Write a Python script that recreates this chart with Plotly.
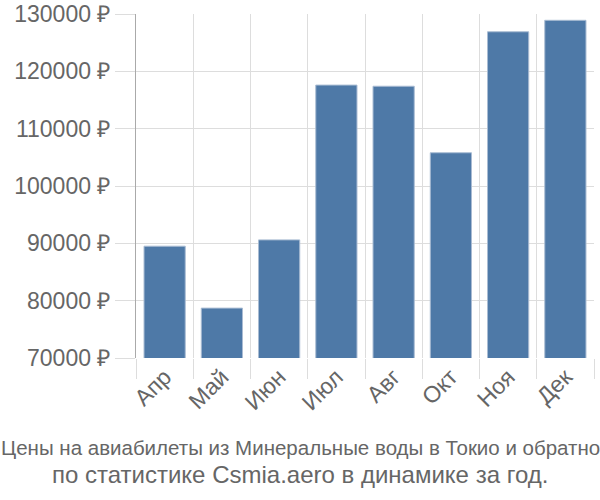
import plotly.graph_objects as go

months = ["Апр", "Май", "Июн", "Июл", "Авг", "Окт", "Ноя", "Дек"]
prices = [89500, 78700, 90600, 117600, 117400, 105800, 126900, 128900]
y_ticks = [70000, 80000, 90000, 100000, 110000, 120000, 130000]
title_line1 = "Цены на авиабилеты из Минеральные воды в Токио и обратно"
title_line2 = "по статистике Csmia.aero в динамике за год."

fig = go.Figure(go.Bar(
    x=months, y=prices,
    marker=dict(color="#4e79a7", line=dict(color="#a9bcd3", width=1)),
    width=0.72,
))

fig.update_layout(
    width=600, height=500,
    margin=dict(l=136, r=6, t=14, b=142),
    plot_bgcolor="white", paper_bgcolor="white",
    font=dict(family="Liberation Sans, Arial, sans-serif", color="#666666"),
    showlegend=False,
    bargap=0.28,
)
fig.update_xaxes(
    tickson="boundaries", showgrid=True, gridcolor="#dddddd", gridwidth=1,
    ticks="outside", ticklen=20, tickcolor="#dddddd",
    tickangle=-45, tickfont=dict(size=23, color="#666666"),
    showline=False, zeroline=False, automargin=False,
)
fig.update_yaxes(
    range=[70000, 130000], tickvals=y_ticks,
    ticktext=[f"{v} ₽" for v in y_ticks],
    showgrid=True, gridcolor="#dddddd", gridwidth=1,
    ticks="outside", ticklen=20, tickcolor="#dddddd",
    tickfont=dict(size=23, color="#666666"),
    showline=True, linecolor="#aaaaaa", linewidth=1,
    zeroline=False, automargin=False,
)
cx = (300 - 136) / 458
fig.add_annotation(
    text=title_line1, xref="paper", yref="paper",
    x=cx, xanchor="center", y=(358 - 447) / 344, yanchor="middle",
    showarrow=False,
    font=dict(size=20.5, color="#666666"),
)
fig.add_annotation(
    text=title_line2, xref="paper", yref="paper",
    x=cx, xanchor="center", y=(358 - 474) / 344, yanchor="middle",
    showarrow=False,
    font=dict(size=24, color="#666666"),
)
fig.write_html("out.html")
